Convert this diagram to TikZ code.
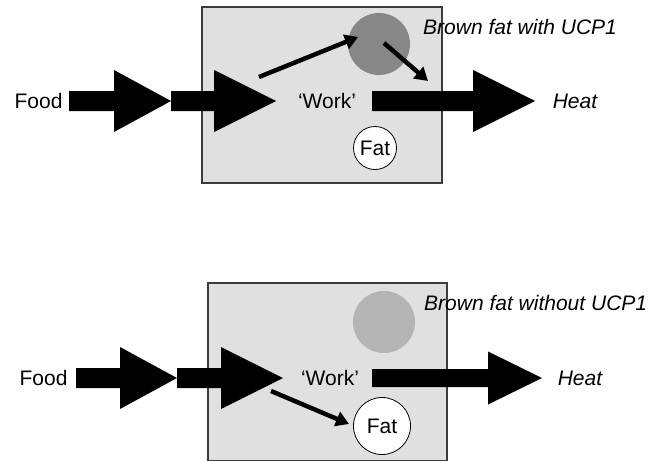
\documentclass[tikz,border=0pt]{standalone}
\usepackage{fontspec}
\setmainfont{Liberation Sans}
\usetikzlibrary{arrows.meta}
\definecolor{boxfill}{HTML}{E0E0E0}
\definecolor{boxline}{HTML}{3C3C3C}
\definecolor{darkblob}{HTML}{878787}
\definecolor{lightblob}{HTML}{B4B4B4}
\tikzset{
  panel/.style={fill=boxfill, draw=boxline, line width=1.3pt},
  blockarr/.style={fill=black},
  thinarr/.style={line width=4.5pt, -{Triangle[length=13pt,width=15pt]}},
  lbl/.style={inner sep=0pt, font=\fontsize{21}{25}\selectfont},
  fatnode/.style={circle, draw=black, fill=white, line width=0.8pt, inner sep=0pt, font=\fontsize{21}{25}\selectfont},
  blob/.style={circle, inner sep=0pt, draw=none},
}
\newcommand\blockarrow[6]{\fill[blockarr] (#1,#4-#5) -- (#2,#4-#5) -- (#2,#4-#6) -- (#3,#4) -- (#2,#4+#6) -- (#2,#4+#5) -- (#1,#4+#5) -- cycle;}
\begin{document}
\begin{tikzpicture}[x=1pt,y=-1pt]
\useasboundingbox (0,0) rectangle (663,460);
% ---------- top panel ----------
\draw[panel] (202,7) rectangle (442,183);
\node[blob, fill=darkblob, minimum size=62pt] (btop) at (379,44) {};
\node[fatnode, minimum size=43pt] (fattop) at (375,148) {Fat};
\blockarrow{69}{114}{171}{101}{10}{31}
\blockarrow{171}{214}{276}{101}{10}{31}
\blockarrow{372}{473}{535}{101}{10}{31}
\node[lbl, anchor=base] (foodtop) at (38.5,108) {Food};
\node[lbl, anchor=base] (worktop) at (327,108) {‘Work’};
\node[lbl, anchor=base, font=\fontsize{21}{25}\selectfont\itshape] (heattop) at (575,108) {Heat};
\node[lbl, anchor=base west, font=\fontsize{21}{25}\selectfont\itshape] (uctop) at (423,34.5) {Brown fat with UCP1};
\coordinate (t1s) at (259,77);
\coordinate (t1e) at (358,37);
\coordinate (t2s) at (384,43);
\coordinate (t2e) at (428,81);
\draw[thinarr] (t1s) -- (t1e);
\draw[thinarr] (t2s) -- (t2e);
% ---------- bottom panel ----------
\draw[panel] (208,283) rectangle (447,461);
\node[blob, fill=lightblob, minimum size=62pt] (bbot) at (384,322) {};
\node[fatnode, minimum size=57pt] (fatbot) at (382,426) {Fat};
\blockarrow{76}{120}{177}{378}{10}{31}
\blockarrow{177}{221}{283}{378}{10}{31}
\blockarrow{372}{488}{542}{378}{9}{26.5}
\node[lbl, anchor=base] (foodbot) at (43.5,385.5) {Food};
\node[lbl, anchor=base] (workbot) at (330,385.5) {‘Work’};
\node[lbl, anchor=base, font=\fontsize{21}{25}\selectfont\itshape] (heatbot) at (580,385.5) {Heat};
\node[lbl, anchor=base west, font=\fontsize{21}{25}\selectfont\itshape] (ucbot) at (424,310.5) {Brown fat without UCP1};
\coordinate (b1s) at (271,391);
\coordinate (b1e) at (349,424);
\draw[thinarr] (b1s) -- (b1e);
\end{tikzpicture}
\end{document}
